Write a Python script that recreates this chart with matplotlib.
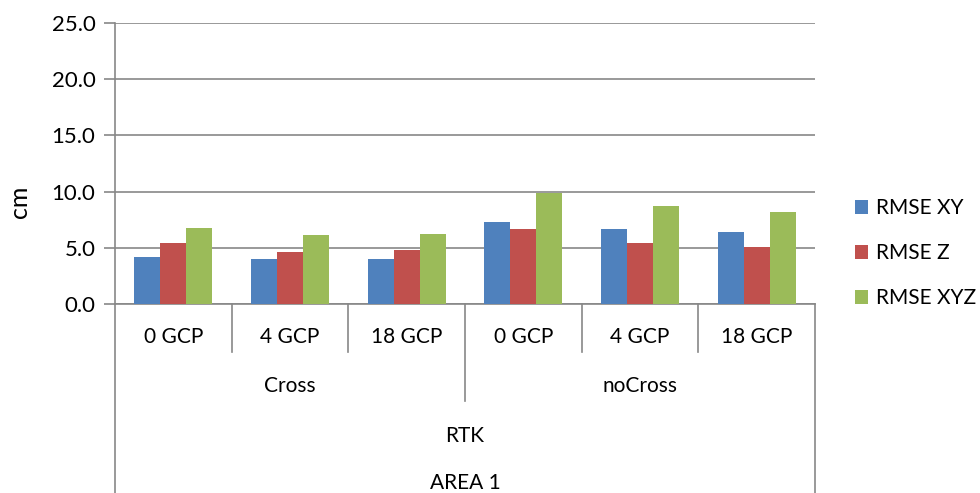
import numpy as np
import matplotlib.pyplot as plt

plt.rcParams['font.family'] = ['Lato', 'DejaVu Sans']

# data
gcp_labels = ['0 GCP', '4 GCP', '18 GCP', '0 GCP', '4 GCP', '18 GCP']
group_labels = ['Cross', 'noCross']
level3 = 'RTK'
level4 = 'AREA 1'
rmse_xy = [4.2, 4.0, 4.0, 7.3, 6.7, 6.4]
rmse_z = [5.4, 4.6, 4.8, 6.7, 5.4, 5.1]
rmse_xyz = [6.8, 6.1, 6.2, 9.9, 8.7, 8.2]

series = [('RMSE XY', rmse_xy, '#4F81BD'),
          ('RMSE Z', rmse_z, '#C0504D'),
          ('RMSE XYZ', rmse_xyz, '#9BBB59')]

grey = '#878787'
fs_tick = 16
fs_cat = 15

fig = plt.figure(figsize=(9.8, 4.93), dpi=100)
ax = fig.add_axes([0.1173, 0.3834, 0.7143, 0.57])

n = len(gcp_labels)
x = np.arange(n)
w = 0.223
for i, (name, vals, col) in enumerate(series):
    ax.bar(x + (i - 1) * w, vals, w, color=col, label=name, zorder=3)

ax.set_xlim(-0.5, n - 0.5)
ax.set_ylim(0, 25)
ax.set_yticks(np.arange(0, 26, 5))
ax.set_yticklabels([f'{v:.1f}' for v in np.arange(0, 26, 5)], fontsize=fs_tick)
ax.yaxis.grid(True, color=grey, linewidth=1.2, zorder=0)
ax.tick_params(axis='y', length=8, width=1.2, color=grey, pad=6)
ax.set_xticks([])
for s in ['top', 'right']:
    ax.spines[s].set_visible(False)
ax.spines['left'].set_color(grey)
ax.spines['bottom'].set_color(grey)
ax.spines['left'].set_linewidth(1.2)
ax.spines['bottom'].set_linewidth(1.2)

# multi-level category axis
tr = ax.get_xaxis_transform()
for b in range(1, n):
    bottom = -0.345 if b == 3 else -0.171
    ax.plot([b - 0.5, b - 0.5], [0, bottom], color=grey, lw=1.2,
            transform=tr, clip_on=False)
for b in [-0.5, n - 0.5]:
    ax.plot([b, b], [0, -0.70], color=grey, lw=1.2,
            transform=tr, clip_on=False)
for i, lab in enumerate(gcp_labels):
    ax.text(i, -0.117, lab, ha='center', va='center', fontsize=fs_cat, transform=tr)
for j, lab in enumerate(group_labels):
    ax.text(j * 3 + 1, -0.292, lab, ha='center', va='center', fontsize=fs_cat, transform=tr)
ax.text((n - 1) / 2, -0.470, level3, ha='center', va='center', fontsize=fs_cat, transform=tr)
ax.text((n - 1) / 2, -0.637, level4, ha='center', va='center', fontsize=fs_cat, transform=tr)

fig.text(19 / 980, 1 - 202 / 493, 'cm', rotation=90, ha='center', va='center', fontsize=18)

fig.legend(loc='center left', bbox_to_anchor=(0.8724, 0.487), frameon=False,
           fontsize=15, handlelength=0.65, handleheight=0.65, labelspacing=1.2,
           handletextpad=0.35, borderpad=0, borderaxespad=0)

fig.savefig('out.png', dpi=100)
